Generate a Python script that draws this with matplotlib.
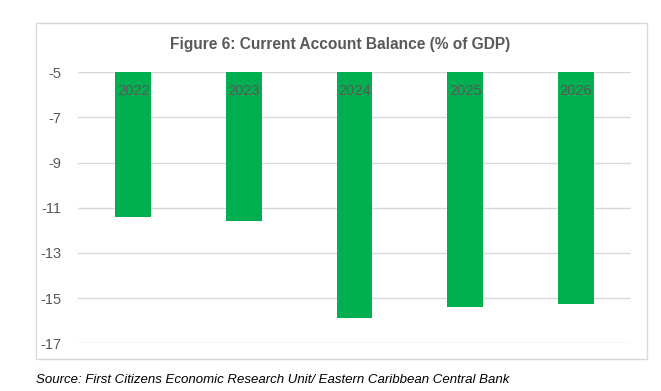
import numpy as np
import matplotlib
matplotlib.use('Agg')
import matplotlib.pyplot as plt
from matplotlib.patches import Rectangle

plt.rcParams['font.family'] = ['Liberation Sans Narrow', 'Liberation Sans', 'DejaVu Sans']

# data
years = ['2022', '2023', '2024', '2025', '2026']
balance = [-11.4, -11.6, -15.87, -15.38, -15.25]
yticks = [-5, -7, -9, -11, -13, -15, -17]

W, H = 661, 391
fig = plt.figure(figsize=(W / 100, H / 100), dpi=100)

# outer chart border
fig.patches.append(Rectangle((36 / W, 1 - 359 / H), (647 - 36) / W, (359 - 23) / H,
                             transform=fig.transFigure, fill=False,
                             edgecolor='#d9d9d9', linewidth=1))

ax = fig.add_axes([78 / W, 1 - 343.3 / H, (631 - 78) / W, (343.3 - 72.3) / H])

x = np.arange(len(years))
base = -5
ax.bar(x, np.array(balance) - base, bottom=base, width=0.325, color='#00b050', zorder=2)

for xi, yr in zip(x, years):
    ax.annotate(yr, (xi, base), xytext=(0, -18.5), textcoords='offset pixels',
                ha='center', va='center', fontsize=10.5, color='#595959', zorder=3)

ax.set_xlim(-0.5, len(years) - 0.5)
ax.set_ylim(-17, -5)
ax.set_yticks(yticks)
ax.set_yticklabels([str(t) for t in yticks])
ax.set_xticks([])
ax.grid(axis='y', color='#d9d9d9', linewidth=1, zorder=0)
ax.tick_params(axis='y', length=0, pad=12, labelsize=10.5, labelcolor='#595959')
for s in ax.spines.values():
    s.set_visible(False)

fig.text(340 / W, 1 - 45 / H, 'Figure 6: Current Account Balance (% of GDP)',
         ha='center', va='center', fontsize=11.2, fontweight='bold', color='#595959')

fig.text(36 / W, 1 - 380 / H,
         'Source: First Citizens Economic Research Unit/ Eastern Caribbean Central Bank',
         ha='left', va='center', fontsize=9.5, style='italic', color='black')

fig.savefig('out.png', dpi=100)
